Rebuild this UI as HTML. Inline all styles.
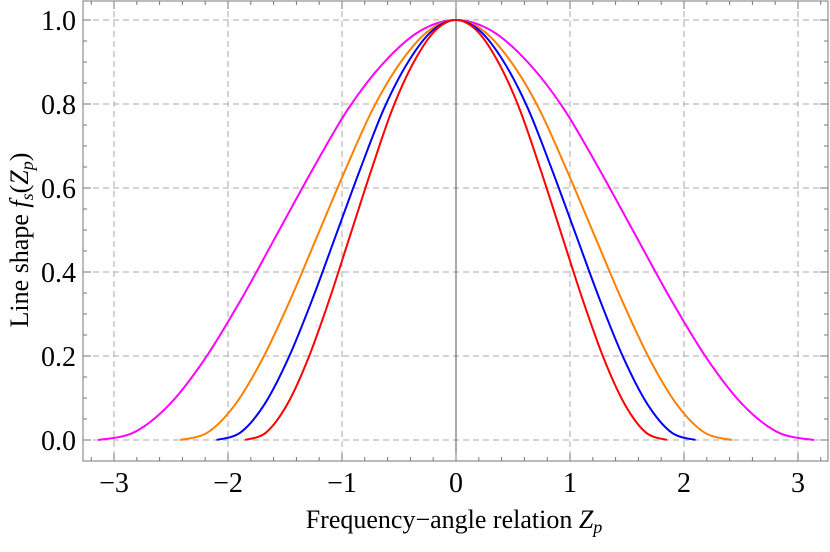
<!DOCTYPE html>
<html><head><meta charset="utf-8">
<style>
body{margin:0;background:#fff;}
svg, svg text, svg tspan{font-family:"Liberation Serif","DejaVu Serif",serif !important;fill:#000;}
</style></head><body>
<svg id="chart" width="830" height="547" viewBox="0 0 830 547" font-family="Liberation Serif, serif">
<g id="grid"></g>
<g id="series"></g>
<g id="axes"></g>
<text x="454" y="528" font-size="26" text-anchor="middle" font-family="Liberation Serif, serif">Frequency−angle relation <tspan font-style="italic">Z</tspan><tspan font-style="italic" font-size="18" dy="5">p</tspan></text>
<text transform="translate(28,240) rotate(-90)" font-size="26" text-anchor="middle" font-family="Liberation Serif, serif">Line shape <tspan font-style="italic">f</tspan><tspan font-style="italic" font-size="18" dy="5">s</tspan><tspan dy="-5">(</tspan><tspan font-style="italic">Z</tspan><tspan font-style="italic" font-size="18" dy="5">p</tspan><tspan dy="-5">)</tspan></text>
</svg>
<script>
const xTicks=[-3,-2,-1,0,1,2,3];
const xTickLabels=["−3","−2","−1","0","1","2","3"];
const yTicks=[0,0.2,0.4,0.6,0.8,1.0];
const yTickLabels=["0.0","0.2","0.4","0.6","0.8","1.0"];
const seriesNames=["magenta","orange","blue","red"];
const seriesColors=["#ff00ff","#ff8000","#0000ff","#ff0000"];
const fracs=[-1,-0.9,-0.8,-0.7,-0.6,-0.5,-0.4,-0.3,-0.2,-0.1,0,0.1,0.2,0.3,0.4,0.5,0.6,0.7,0.8,0.9,1];
const shapeValues=[0,0.018,0.085,0.195,0.335,0.49,0.645,0.79,0.9,0.974,1,0.974,0.9,0.79,0.645,0.49,0.335,0.195,0.085,0.018,0];
const halfWidths=[3.14,2.42,2.1,1.85];
const magentaY=shapeValues, orangeY=shapeValues, blueY=shapeValues, redY=shapeValues;
const seriesY=[magentaY,orangeY,blueY,redY];

const X0=456,XS=114,Y0=440,YS=420;
const sx=v=>X0+v*XS, sy=v=>Y0-v*YS;
const NS="http://www.w3.org/2000/svg";
function mk(tag,attrs,parent){const e=document.createElementNS(NS,tag);for(const k in attrs)e.setAttribute(k,attrs[k]);parent.appendChild(e);return e;}
const grid=document.getElementById('grid'),axes=document.getElementById('axes'),ser=document.getElementById('series');
const L=83,R=828,T=1,B=461;
xTicks.forEach((t,i)=>{
  const g=mk('line',{x1:sx(t),x2:sx(t),y1:T,y2:B,stroke:'#aaa','stroke-dasharray':'6,4','stroke-width':1},grid);
  
  
  const tx=mk('text',{x:sx(t),y:492,'font-size':28,'text-anchor':'middle','font-family':'Liberation Serif, serif'},axes);
  tx.textContent=xTickLabels[i];
  
  
});
yTicks.forEach((t,i)=>{
  const g=mk('line',{x1:L,x2:R,y1:sy(t),y2:sy(t),stroke:'#aaa','stroke-dasharray':'6,4','stroke-width':1},grid);
  
  
  const tx=mk('text',{x:76,y:sy(t)+10,'font-size':28,'text-anchor':'end','font-family':'Liberation Serif, serif'},axes);
  tx.textContent=yTickLabels[i];
  
  
});
const zl=mk('line',{x1:sx(0),x2:sx(0),y1:T,y2:B,stroke:'#555','stroke-width':1},grid);


for(let k=-16;k<=16;k++){const v=k*0.2;const x=sx(v);if(x<L||x>R)continue;const len=(k%5===0)?8:4;
  mk('line',{x1:x,x2:x,y1:B,y2:B-len,stroke:'#777'},axes);mk('line',{x1:x,x2:x,y1:T,y2:T+len,stroke:'#777'},axes);}
for(let k=-1;k<=21;k++){const v=k*0.05;const y=sy(v);if(y<T||y>B)continue;const len=(k%4===0)?8:4;
  mk('line',{x1:L,x2:L+len,y1:y,y2:y,stroke:'#777'},axes);mk('line',{x1:R,x2:R-len,y1:y,y2:y,stroke:'#777'},axes);}
const fr=mk('rect',{x:L,y:T,width:R-L,height:B-T,fill:'none',stroke:'#777','stroke-width':1},axes);


seriesNames.forEach((n,si)=>{
  const pts=fracs.map((f,i)=>[sx(f*halfWidths[si]),sy(seriesY[si][i])]);
  let d='M'+pts[0][0]+','+pts[0][1];
  for(let i=0;i<pts.length-1;i++){
    const p0=pts[Math.max(0,i-1)],p1=pts[i],p2=pts[i+1],p3=pts[Math.min(pts.length-1,i+2)];
    d+=' C'+(p1[0]+(p2[0]-p0[0])/6)+','+(p1[1]+(p2[1]-p0[1])/6)+' '+(p2[0]-(p3[0]-p1[0])/6)+','+(p2[1]-(p3[1]-p1[1])/6)+' '+p2[0]+','+p2[1];
  }
  const p=mk('path',{d:d,fill:'none',stroke:seriesColors[si],'stroke-width':2},ser);
  
  
});
</script>
</body></html>
